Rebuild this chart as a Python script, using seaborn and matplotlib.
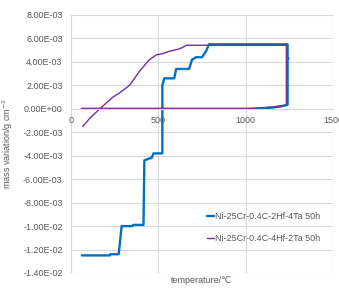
import pandas as pd
import seaborn as sns
import matplotlib.pyplot as plt
from matplotlib.ticker import FuncFormatter

# Ni-25Cr-0.4C-2Hf-4Ta 50h  (mass in 1E-3 g/cm2)
temp_a = [62, 222, 226, 273, 290, 352, 356, 415, 420, 455, 462, 472, 523, 523,
          534, 591, 602, 676, 693, 716, 750, 773, 790, 1240, 1240, 1245, 1240,
          1240, 1200, 1150, 1100, 1056, 800, 500, 200, 62]
mass_a = [-12.5, -12.5, -12.4, -12.4, -10.0, -10.0, -9.9, -9.9, -4.4, -4.2, -4.2,
          -3.8, -3.8, 2.0, 2.6, 2.6, 3.4, 3.4, 4.2, 4.4, 4.4, 4.9, 5.5, 5.5,
          4.35, 4.3, 4.25, 0.35, 0.2, 0.1, 0.05, 0.0, 0.0, 0.0, 0.0, 0.0]

# Ni-25Cr-0.4C-4Hf-2Ta 50h
temp_b = [68, 108, 165, 240, 278, 335, 392, 449, 489, 523, 562, 619, 648, 659,
          1233, 1233, 1200, 1150, 1100, 1050, 977, 62]
mass_b = [-1.5, -0.8, 0.0, 1.0, 1.36, 2.0, 3.2, 4.2, 4.6, 4.7, 4.9, 5.1, 5.3,
          5.42, 5.42, 0.3, 0.25, 0.15, 0.1, 0.05, 0.0, 0.0]

labels = ["Ni-25Cr-0.4C-2Hf-4Ta 50h", "Ni-25Cr-0.4C-4Hf-2Ta 50h"]

df_a = pd.DataFrame({"t": temp_a, "m": [v * 1e-3 for v in mass_a]})
df_b = pd.DataFrame({"t": temp_b, "m": [v * 1e-3 for v in mass_b]})

sns.set_style("white")
plt.rcParams["font.family"] = ["Liberation Sans", "DejaVu Sans"]
grey = "#595959"

fig = plt.figure(figsize=(3.39, 2.89), dpi=100)
ax = fig.add_axes([71 / 339, 1 - 273 / 289, 262 / 339, 258 / 289])

sns.lineplot(data=df_a, x="t", y="m", sort=False, estimator=None, ax=ax,
             color="#0070C0", lw=1.7, label=labels[0])
sns.lineplot(data=df_b, x="t", y="m", sort=False, estimator=None, ax=ax,
             color="#7030A0", lw=1.0, label=labels[1])

ax.set_xlim(0, 1500)
ax.set_ylim(-0.014, 0.008)
ax.set_xticks([0, 500, 1000, 1500])
ax.set_yticks([i * 0.002 for i in range(-7, 5)])
ax.yaxis.set_major_formatter(FuncFormatter(lambda v, p: f"{v:.2E}"))
ax.grid(True, color="#D9D9D9", lw=0.8)
for s in ["top", "right", "left"]:
    ax.spines[s].set_visible(False)
ax.spines["bottom"].set_position(("data", 0))
ax.spines["bottom"].set_color("#D9D9D9")
ax.tick_params(length=0, labelsize=6.5, labelcolor=grey, pad=6)
ax.tick_params(axis="x", pad=5)

ax.set_xlabel("temperature/\u2103", fontsize=6.5, color=grey)
ax.set_ylabel("mass variation/g cm$^{-2}$", fontsize=6.5, color=grey)
ax.xaxis.set_label_coords(0.5, -0.01)
ax.yaxis.set_label_coords(-0.215, 0.5)

ax.legend(frameon=False, fontsize=6.5, labelcolor=grey, loc="center left",
          bbox_to_anchor=(207 / 339, 1 - 227.5 / 289),
          bbox_transform=fig.transFigure, borderpad=0, borderaxespad=0,
          handlelength=0.8, handletextpad=0.1, labelspacing=1.5)

fig.savefig("out.png", dpi=100)
